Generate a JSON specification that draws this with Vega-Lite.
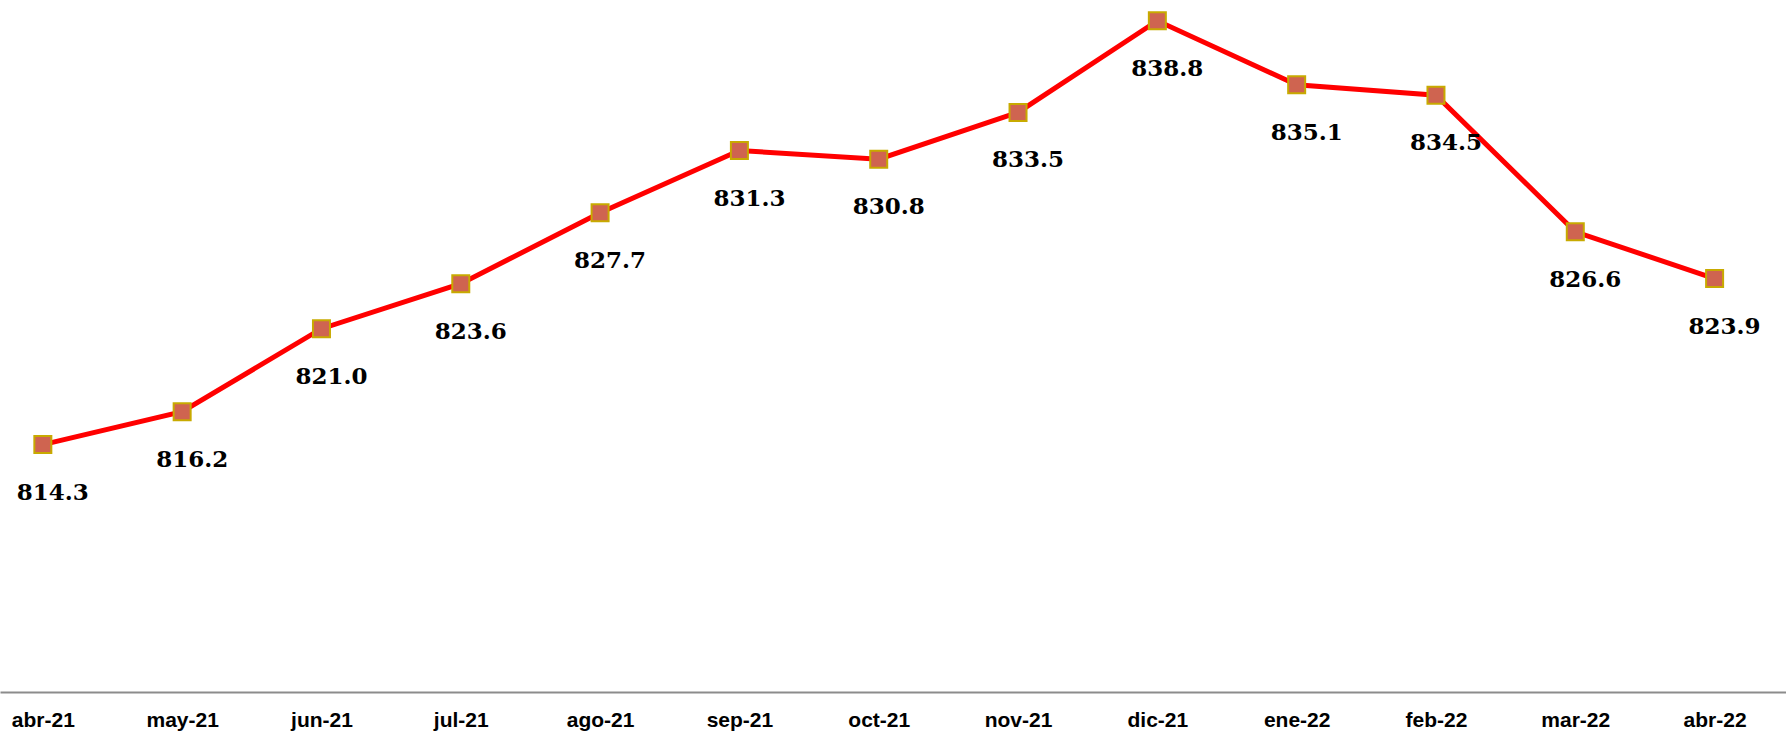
{
  "$schema": "https://vega.github.io/schema/vega-lite/v6.json",
  "width": 1786,
  "height": 692,
  "autosize": {"type": "none"},
  "padding": {"left": 0, "right": 0, "top": 0, "bottom": 43},
  "background": "white",
  "config": {"view": {"stroke": null}},
  "data": {"values": [
    {"mes": "abr-21", "valor": 814.3},
    {"mes": "may-21", "valor": 816.2},
    {"mes": "jun-21", "valor": 821.0},
    {"mes": "jul-21", "valor": 823.6},
    {"mes": "ago-21", "valor": 827.7},
    {"mes": "sep-21", "valor": 831.3},
    {"mes": "oct-21", "valor": 830.8},
    {"mes": "nov-21", "valor": 833.5},
    {"mes": "dic-21", "valor": 838.8},
    {"mes": "ene-22", "valor": 835.1},
    {"mes": "feb-22", "valor": 834.5},
    {"mes": "mar-22", "valor": 826.6},
    {"mes": "abr-22", "valor": 823.9}
  ]},
  "encoding": {
    "x": {
      "field": "mes", "type": "ordinal", "sort": null,
      "scale": {"type": "point", "padding": 0.41, "align": 0.375},
      "axis": {
        "title": null, "labelAngle": 0, "ticks": false, "grid": false,
        "domainColor": "#8c8c8c", "domainWidth": 2,
        "labelFont": "Liberation Sans", "labelFontWeight": "bold", "labelFontSize": 21,
        "labelColor": "#000000", "labelBaseline": "middle", "labelPadding": 28
      }
    },
    "y": {
      "field": "valor", "type": "quantitative",
      "scale": {"domain": [800, 840], "zero": false, "nice": false},
      "axis": null
    }
  },
  "layer": [
    {"mark": {"type": "line", "color": "#ff0000", "strokeWidth": 5, "clip": false}},
    {"mark": {"type": "point", "shape": "square", "filled": true, "size": 289, "fill": "#cf6450", "stroke": "#c8aa00", "strokeWidth": 2, "opacity": 1, "clip": false}},
    {"mark": {"type": "text", "dy": 48, "dx": 10, "font": "DejaVu Serif", "fontWeight": "bold", "fontSize": 23, "color": "#000000", "baseline": "middle", "align": "center"},
     "encoding": {"text": {"field": "valor", "type": "quantitative", "format": ".1f"}}}
  ]
}
